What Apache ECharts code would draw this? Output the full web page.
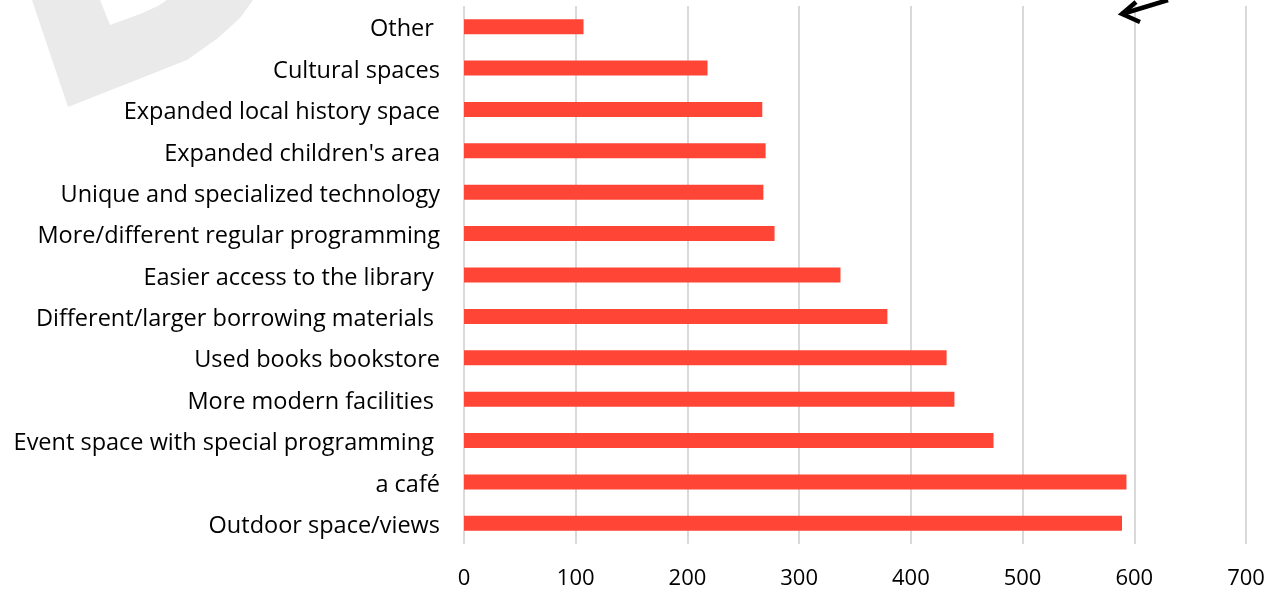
<!DOCTYPE html>
<html>
<head>
<meta charset="utf-8">
<script src="https://cdn.jsdelivr.net/npm/echarts@6/dist/echarts.min.js"></script>
<style>html,body{margin:0;padding:0;background:#fff;}#c{width:1278px;height:590px;}</style>
</head>
<body>
<div id="c"></div>
<script>
const categories = [
  'Other ',
  'Cultural spaces',
  'Expanded local history space',
  "Expanded children's area",
  'Unique and specialized technology',
  'More/different regular programming',
  'Easier access to the library ',
  'Different/larger borrowing materials ',
  'Used books bookstore',
  'More modern facilities ',
  'Event space with special programming ',
  'a café',
  'Outdoor space/views'
];
const values = [107, 218, 267, 270, 268, 278, 337, 379, 432, 439, 474, 593, 589];
const xTicks = [0, 100, 200, 300, 400, 500, 600, 700];

const chart = echarts.init(document.getElementById('c'));
const FONT = 'Open Sans';
chart.setOption({
  animation: false,
  backgroundColor: '#ffffff',
  grid: { left: 464, right: 32, top: 6, bottom: 46, containLabel: false },
  xAxis: {
    type: 'value',
    min: xTicks[0],
    max: xTicks[xTicks.length - 1],
    interval: 100,
    axisLine: { show: false },
    axisTick: { show: false },
    splitLine: { show: true, lineStyle: { color: '#d9d9d9', width: 2 } },
    axisLabel: { color: '#000', fontSize: 22, fontFamily: FONT, margin: 24 }
  },
  yAxis: {
    type: 'category',
    inverse: true,
    data: categories,
    axisLine: { show: false },
    axisTick: { show: false },
    axisLabel: {
      color: '#000', fontSize: 23.5, fontFamily: FONT, margin: 24,
      formatter: function (v) { return '{a|' + v + '}'; },
      rich: { a: { color: '#000', fontSize: 23.5, fontFamily: FONT, padding: [6, 0, 0, 0] } }
    }
  },
  series: [{
    type: 'bar',
    data: values,
    barWidth: 15,
    itemStyle: { color: '#ff4636' }
  }],
  graphic: [
    {
      type: 'polygon', z: -10, silent: true,
      shape: { points: [[32,0],[68,107],[187,60],[218,38],[240,18],[253,0]] },
      style: { fill: '#eaeaea' }
    },
    {
      type: 'polygon', z: -9, silent: true,
      shape: { points: [[100,0],[110,25],[140,14],[158,6],[167,0]] },
      style: { fill: '#ffffff' }
    },
    {
      type: 'polyline', z: 10, silent: true,
      shape: { points: [[1168,0],[1122,14]] },
      style: { stroke: '#000', lineWidth: 4.5, fill: null }
    },
    {
      type: 'polyline', z: 10, silent: true,
      shape: { points: [[1136,2],[1122,14],[1140,22]] },
      style: { stroke: '#000', lineWidth: 4.5, fill: null, lineJoin: 'miter' }
    }
  ]
});
</script>
</body>
</html>
